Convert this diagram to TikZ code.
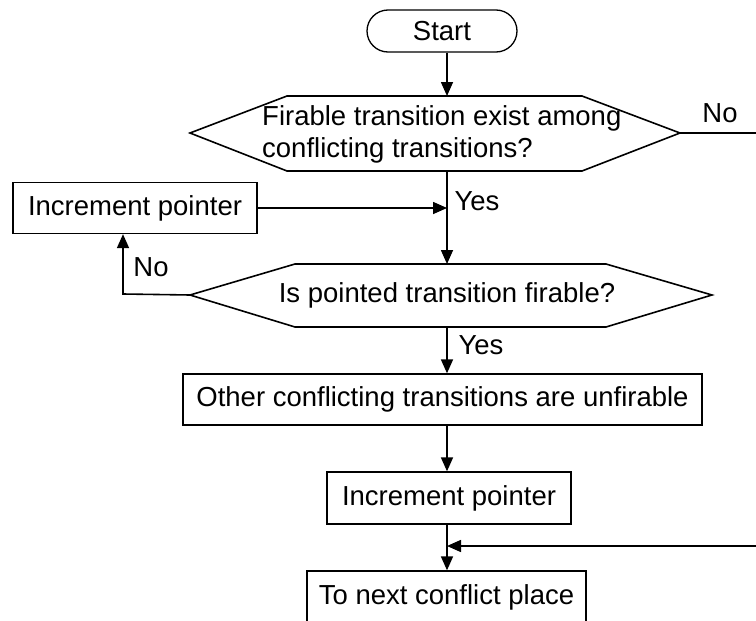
\documentclass[tikz,border=0pt]{standalone}
\usepackage{fontspec}
\setmainfont{Liberation Sans}
\usetikzlibrary{arrows.meta}
\tikzset{
  box/.style={draw, line width=1.3pt, inner sep=0pt, minimum height=51pt},
  flow/.style={line width=1.6pt, -{Triangle[length=14pt,width=12pt]}},
  edge/.style={line width=1.6pt},
  lbl/.style={inner sep=0pt},
}
\begin{document}
\begin{tikzpicture}[x=1pt, y=-1pt, font=\fontsize{27.5}{32}\selectfont]
\useasboundingbox (0,0) rectangle (756,621);
\path
coordinate (FW) at (190,133)
coordinate (FNW) at (287,96)
coordinate (FNE) at (582,96)
coordinate (FE) at (680,133)
coordinate (FSE) at (582,171)
coordinate (FSW) at (287,171)
coordinate (FN) at (447,96)
coordinate (FS) at (447,171)
coordinate (PW) at (190,295)
coordinate (PNW) at (295,264)
coordinate (PNE) at (606,264)
coordinate (PE) at (712,295)
coordinate (PSE) at (606,327)
coordinate (PSW) at (295,327)
coordinate (PN) at (447,264)
coordinate (PS) at (447,327)
coordinate (PL) at (123,294)
coordinate (R1) at (758,133)
coordinate (R2) at (758,546)
coordinate (M) at (447,546)
;
\draw[edge] (FW)--(FNW)--(FNE)--(FE)--(FSE)--(FSW)--cycle;
\draw[edge] (PW)--(PNW)--(PNE)--(PE)--(PSE)--(PSW)--cycle;
\node[box, rounded corners=21pt, minimum width=150pt, minimum height=42pt] (start) at (442,31) {Start};
\node[lbl, anchor=west, align=left] (firable) at (262,134) {Firable transition exist among\\conflicting transitions?};
\node[lbl] (pointed) at (447,295) {Is pointed transition firable?};
\node[box, minimum width=244pt] (incA) at (135,208) {Increment pointer};
\node[box, minimum width=519pt] (others) at (442.5,399.5) {Other conflicting transitions are unfirable};
\node[box, minimum width=244pt, minimum height=52pt] (incB) at (449,498) {Increment pointer};
\node[box, minimum width=279pt, minimum height=52pt] (next) at (446.5,597) {To next conflict place};
\draw[flow] (start.south -| FN) -- (FN);
\draw[flow] (FS) -- (PN);
\draw[flow] (incA.east) -- (incA.east -| FN);
\draw[flow] (PW) -- (PL) -- (PL |- incA.south);
\draw[flow] (PS) -- (PS |- others.north);
\draw[flow] (others.south -| PS) -- (PS |- incB.north);
\draw[flow] (incB.south -| PS) -- (PS |- next.north);
\draw[flow] (FE) -- (R1) -- (R2) -- (M);
\node[lbl] (noA) at (720,113) {No};
\node[lbl] (yesA) at (477,201) {Yes};
\node[lbl] (noB) at (151,267) {No};
\node[lbl] (yesB) at (481,345) {Yes};
\end{tikzpicture}
\end{document}
